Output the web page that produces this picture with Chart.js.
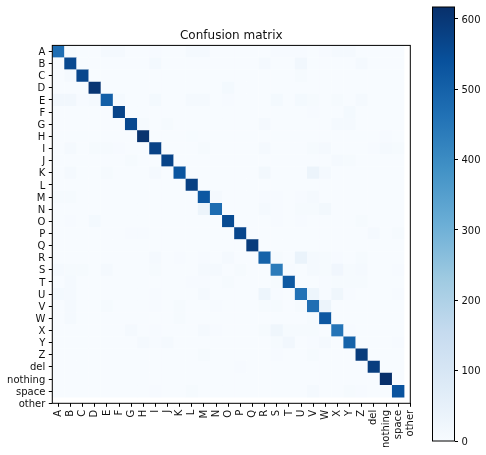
<!DOCTYPE html>
<html>
<head>
<meta charset="utf-8">
<script src="https://cdn.jsdelivr.net/npm/chart.js@4"></script>
<style>
html,body{margin:0;padding:0;background:#fff;width:486px;height:455px;overflow:hidden}
canvas{position:absolute;top:0}
#main{left:0}
#bar{left:420px}
</style>
</head>
<body>
<canvas id="main" width="420" height="455"></canvas>
<canvas id="bar" width="66" height="455"></canvas>
<script>
const categories = ['A','B','C','D','E','F','G','H','I','J','K','L','M','N','O','P','Q','R','S','T','U','V','W','X','Y','Z','del','nothing','space','other'];
const chartTitle = 'Confusion matrix';
const colorbarMax = 617;
const colorbarTicks = [0,100,200,300,400,500,600];
const rowA = [470,5,0,0,8,8,0,0,4,0,0,8,10,0,0,0,0,0,4,4,4,0,4,8,8,0,0,0,0];
const rowB = [0,560,0,0,0,0,0,0,12,0,0,0,0,0,0,0,0,10,0,0,18,0,0,0,0,8,0,0,0];
const rowC = [0,8,565,0,0,0,0,0,0,0,0,0,0,0,0,0,0,0,0,0,6,0,0,0,0,0,0,0,0];
const rowD = [0,0,0,605,0,0,0,0,0,0,0,0,0,0,12,0,0,0,0,0,0,0,0,0,0,0,0,0,0];
const rowE = [20,18,3,8,505,8,0,0,12,0,0,8,10,0,3,0,0,0,12,0,12,5,0,6,0,8,0,0,0];
const rowF = [0,0,0,0,0,570,0,0,0,0,0,0,0,0,0,0,0,0,0,0,0,4,0,0,12,0,0,0,0];
const rowG = [0,0,0,0,0,0,560,6,0,5,0,0,0,0,0,0,0,10,0,0,0,0,0,10,8,0,0,0,0];
const rowH = [0,0,0,0,0,0,0,610,0,0,0,2,0,0,0,0,0,0,0,0,0,0,0,0,0,0,0,4,0];
const rowI = [0,8,0,5,5,4,0,0,575,0,0,0,5,0,0,0,0,10,0,0,0,5,10,0,0,0,4,10,5];
const rowJ = [0,0,0,0,0,0,6,0,0,570,0,0,0,0,0,0,0,0,0,0,0,0,0,8,6,0,0,0,0];
const rowK = [0,8,0,0,6,0,0,0,8,0,530,0,0,0,0,0,0,15,0,0,0,35,10,0,0,0,0,0,0];
const rowL = [0,0,0,0,0,0,0,0,0,0,0,580,0,0,0,0,0,0,0,0,0,0,0,0,0,0,0,0,0];
const rowM = [6,6,0,0,0,0,0,0,0,0,0,0,525,8,0,0,0,3,3,0,3,8,0,0,0,0,0,0,0];
const rowN = [0,0,0,0,0,0,0,0,0,0,0,0,35,475,0,0,0,8,4,0,6,6,15,0,0,0,0,0,0];
const rowO = [0,4,0,12,0,0,0,0,0,0,0,0,0,0,555,0,0,0,4,0,4,0,0,0,0,6,0,0,0];
const rowP = [0,0,0,0,0,0,3,3,0,0,0,0,0,0,0,565,0,0,0,0,0,0,0,0,0,0,8,0,6];
const rowQ = [0,0,0,0,0,0,0,0,0,0,0,0,0,0,0,0,590,0,0,0,0,0,0,0,0,0,0,0,0];
const rowR = [0,0,0,0,0,0,0,0,10,0,3,0,3,0,8,0,0,500,6,0,40,10,5,3,0,5,0,0,0];
const rowS = [10,5,5,0,8,0,0,0,5,0,0,0,8,10,0,6,0,0,440,3,0,10,6,22,7,8,0,0,3];
const rowT = [0,8,0,0,0,0,0,0,0,0,0,3,3,0,6,0,0,0,5,520,0,0,3,5,5,5,0,0,0];
const rowU = [12,8,0,0,0,0,0,0,4,0,0,0,10,0,0,0,0,30,4,0,460,30,4,25,3,0,0,0,4];
const rowV = [0,10,0,0,6,0,0,0,4,0,6,0,0,3,0,0,0,5,5,0,5,470,35,0,0,0,0,0,0];
const rowW = [0,10,0,0,0,0,0,0,0,0,6,0,0,0,0,0,0,0,0,0,0,5,525,0,0,0,0,0,0];
const rowX = [0,0,0,0,0,0,8,0,3,0,0,0,10,3,0,0,0,6,25,6,6,5,0,455,4,0,0,0,0];
const rowY = [0,0,0,0,0,0,0,8,3,8,0,0,0,0,0,0,0,0,7,20,0,4,8,0,500,0,0,0,4];
const rowZ = [0,0,0,0,0,0,0,0,0,0,0,0,6,0,0,0,0,0,4,0,0,6,0,0,0,590,0,0,0];
const rowDel = [0,0,0,0,0,0,0,0,0,0,0,0,0,0,0,3,0,0,0,0,0,0,0,0,0,0,585,0,0];
const rowNothing = [0,0,0,0,0,0,0,0,0,0,0,0,0,0,0,0,0,0,0,0,0,0,0,0,0,0,0,617,0];
const rowSpace = [0,0,0,0,0,0,0,0,3,0,0,5,0,0,0,0,0,0,0,0,0,8,0,0,5,3,0,0,535];
const rows = [rowA,rowB,rowC,rowD,rowE,rowF,rowG,rowH,rowI,rowJ,rowK,rowL,rowM,rowN,rowO,rowP,rowQ,rowR,rowS,rowT,rowU,rowV,rowW,rowX,rowY,rowZ,rowDel,rowNothing,rowSpace];

const blues = ['#f7fbff','#deebf7','#c6dbef','#9ecae1','#6baed6','#4292c6','#2171b5','#08519c','#08306b'];
function hexRgb(h){return [1,3,5].map(i=>parseInt(h.substr(i,2),16));}
function colorFor(v){
  const t = Math.max(0,Math.min(1,v/colorbarMax))*(blues.length-1);
  const i = Math.min(Math.floor(t),blues.length-2), f = t-i;
  const a = hexRgb(blues[i]), b = hexRgb(blues[i+1]);
  return 'rgb('+a.map((c,k)=>Math.round(c+(b[k]-c)*f)).join(',')+')';
}
const frame = {
  id:'frame',
  afterDraw(chart){
    const a = chart.chartArea, c = chart.ctx;
    c.save();
    c.strokeStyle = '#000';
    c.lineWidth = 1;
    c.strokeRect(a.left,a.top,a.right-a.left,a.bottom-a.top);
    c.restore();
  }
};
const font = {family:'"DejaVu Sans"',size:10};
const textColor = '#111';
function noPad(s){s.paddingLeft=s.paddingRight=s.paddingTop=s.paddingBottom=0;}
const cells = [];
rows.forEach((row,y)=>row.forEach((v,x)=>cells.push({x,y,v})));
function categoryTicks(scale){ scale.ticks = categories.map((_,i)=>({value:i})); }
function axisCommon(){
  return {
    type:'linear', min:-0.5, max:29,
    afterBuildTicks:categoryTicks,
    border:{display:false},
    grid:{drawOnChartArea:false,drawTicks:true,tickLength:3.5,tickColor:'#000',tickWidth:1}
  };
}
new Chart(document.getElementById('main'),{
  type:'scatter',
  data:{datasets:[{
    data:cells,
    pointStyle:'rect',
    borderWidth:0,
    pointBorderWidth:0,
    pointRadius:ctx=>{
      const s = ctx.chart.scales.x;
      return (Math.abs(s.getPixelForValue(1)-s.getPixelForValue(0))/2+0.15)/Math.SQRT1_2;
    },
    pointHoverRadius:0,
    pointBackgroundColor:ctx=>colorFor(ctx.raw ? ctx.raw.v : 0)
  }]},
  options:{
    responsive:false,animation:false,devicePixelRatio:1,
    events:[],
    layout:{padding:{left:0,right:9.7,top:0,bottom:0}},
    plugins:{
      legend:{display:false},tooltip:{enabled:false},
      title:{display:true,text:chartTitle,fullSize:false,color:textColor,
        font:{family:'"DejaVu Sans"',size:12,weight:'normal',lineHeight:1.2},
        padding:{top:29,bottom:2}}
    },
    scales:{
      x:Object.assign(axisCommon(),{
        position:'bottom',
        afterFit(s){s.height=51.7;noPad(s);},
        ticks:{font,color:textColor,padding:3,minRotation:90,maxRotation:90,autoSkip:false,
          callback:v=>categories[v]}
      }),
      y:Object.assign(axisCommon(),{
        reverse:true,
        afterFit(s){s.width=52.3;noPad(s);},
        ticks:{font,color:textColor,padding:3.5,labelOffset:1,autoSkip:false,callback:v=>categories[v]}
      })
    }
  },
  plugins:[frame]
});
new Chart(document.getElementById('bar'),{
  type:'bar',
  data:{labels:[''],datasets:[{
    data:[colorbarMax],
    categoryPercentage:1,barPercentage:1,borderWidth:0,
    backgroundColor:ctx=>{
      const a = ctx.chart.chartArea;
      if(!a) return blues[0];
      const g = ctx.chart.ctx.createLinearGradient(0,a.bottom,0,a.top);
      blues.forEach((c,i)=>g.addColorStop(i/(blues.length-1),c));
      return g;
    }
  }]},
  options:{
    responsive:false,animation:false,devicePixelRatio:1,
    events:[],
    layout:{padding:{left:12.5,right:0,top:7,bottom:14}},
    plugins:{legend:{display:false},tooltip:{enabled:false},title:{display:false}},
    scales:{
      x:{display:false},
      y:{
        type:'linear',position:'right',min:0,max:colorbarMax,
        afterBuildTicks(s){s.ticks = colorbarTicks.map(value=>({value}));},
        afterFit(s){s.width=31.5;noPad(s);},
        border:{display:false},
        grid:{drawOnChartArea:false,drawTicks:true,tickLength:3.5,tickColor:'#000',tickWidth:1},
        ticks:{font,color:textColor,padding:3.5,labelOffset:1,autoSkip:false}
      }
    }
  },
  plugins:[frame]
});
</script>
</body>
</html>
